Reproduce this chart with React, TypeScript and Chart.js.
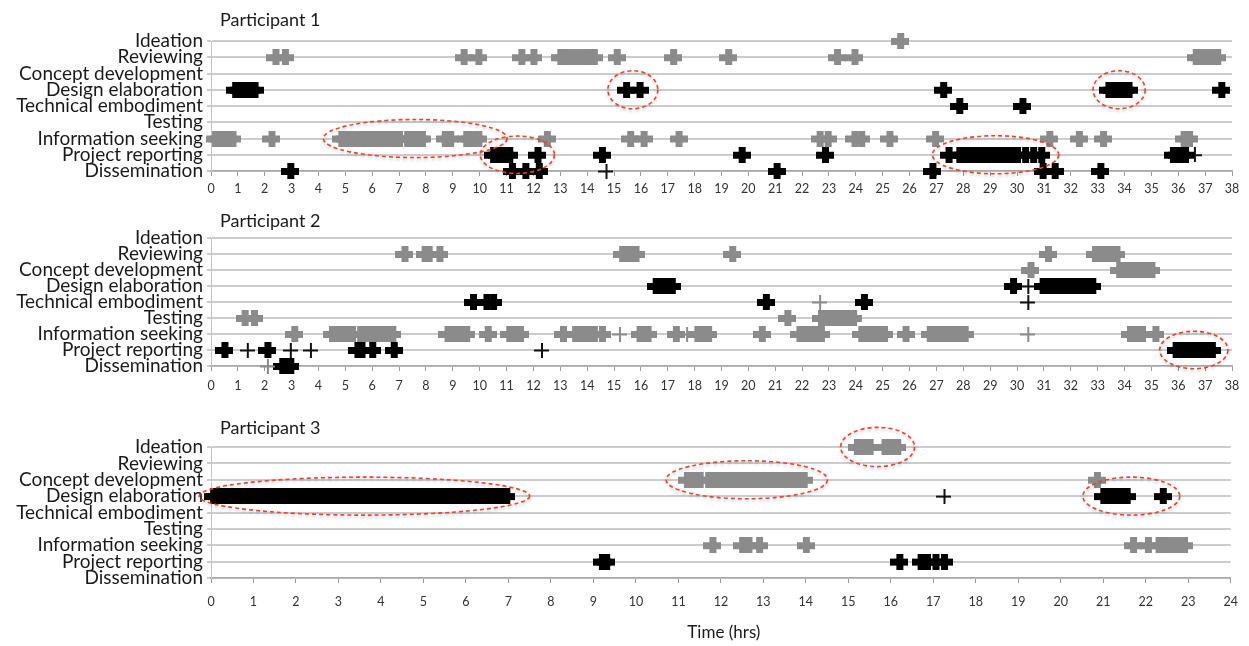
import React, { useEffect, useRef } from "react";
import { Chart, registerables } from "chart.js";

Chart.register(...registerables);

const FONT = "Lato, 'Open Sans', sans-serif";

const CATEGORIES = [
  "Ideation",
  "Reviewing",
  "Concept development",
  "Design elaboration",
  "Technical embodiment",
  "Testing",
  "Information seeking",
  "Project reporting",
  "Dissemination",
];

type Row = [string, number[]];
type Ellipse = [number, string, number, number];

// ---------- Participant 1 (hours 0–38) ----------
const P1_X_MAX = 38;
const P1_GRAY: Row[] = [
  ["Ideation", [25.65]],
  ["Reviewing", [2.4, 2.75, 9.4, 9.95, 11.55, 12.0, 13.0, 13.15, 13.3, 13.45, 13.6, 13.75, 13.9, 14.05, 14.25, 15.1, 17.2, 19.25, 23.3, 23.95, 36.65, 36.8, 36.95, 37.1, 37.25, 37.45]],
  ["Information seeking", [0.15, 0.3, 0.45, 0.6, 0.8, 2.25, 4.85, 5.0, 5.15, 5.3, 5.45, 5.6, 5.75, 5.9, 6.05, 6.2, 6.35, 6.5, 6.65, 6.8, 7.0, 7.3, 7.45, 7.6, 7.75, 7.85, 8.7, 8.9, 9.5, 9.65, 9.8, 9.95, 12.5, 15.6, 16.1, 17.4, 22.65, 22.95, 23.95, 24.2, 25.25, 26.95, 31.2, 32.3, 33.2, 36.2, 36.4]],
];
const P1_BLACK: Row[] = [
  ["Design elaboration", [0.9, 1.05, 1.2, 1.35, 1.5, 1.62, 15.45, 15.95, 27.25, 33.4, 33.55, 33.7, 33.85, 34.0, 34.15, 37.6]],
  ["Technical embodiment", [27.85, 30.2]],
  ["Project reporting", [10.5, 10.65, 10.8, 10.95, 11.1, 12.15, 14.55, 19.75, 22.85, 27.45, 27.85, 28.0, 28.15, 28.3, 28.45, 28.6, 28.75, 28.9, 29.05, 29.2, 29.35, 29.5, 29.65, 29.8, 30.0, 30.3, 30.6, 30.9, 35.8, 35.95, 36.1, 36.25]],
  ["Dissemination", [2.95, 11.2, 11.7, 12.2, 21.05, 26.85, 30.95, 31.4, 33.1]],
];
const P1_THIN_BLACK: Row[] = [
  ["Project reporting", [36.6]],
  ["Dissemination", [14.7]],
];
const P1_THIN_GRAY: Row[] = [];
const P1_ELLIPSES: Ellipse[] = [
  [7.6, "Information seeking", 3.42, 1.17],
  [11.4, "Project reporting", 1.38, 1.15],
  [15.7, "Design elaboration", 0.93, 1.17],
  [29.2, "Project reporting", 2.35, 1.17],
  [33.8, "Design elaboration", 0.97, 1.17],
];

// ---------- Participant 2 (hours 0–38) ----------
const P2_X_MAX = 38;
const P2_GRAY: Row[] = [
  ["Reviewing", [7.2, 7.95, 8.1, 8.5, 15.3, 15.45, 15.6, 15.8, 19.4, 31.15, 32.9, 33.05, 33.2, 33.35, 33.5, 33.7]],
  ["Concept development", [30.5, 33.8, 33.95, 34.1, 34.25, 34.4, 34.55, 34.7, 34.85, 35.0]],
  ["Testing", [1.25, 1.6, 21.45, 22.7, 22.85, 23.0, 23.15, 23.3, 23.45, 23.6, 23.75, 23.9]],
  ["Information seeking", [3.1, 4.5, 4.65, 4.8, 4.95, 5.1, 5.25, 5.55, 5.7, 5.85, 6.0, 6.15, 6.3, 6.45, 6.6, 6.75, 8.8, 8.95, 9.1, 9.25, 9.4, 9.5, 10.3, 11.1, 11.25, 11.4, 11.5, 13.1, 13.55, 13.8, 13.95, 14.1, 14.25, 14.55, 15.95, 16.1, 16.25, 17.3, 18.1, 18.25, 18.4, 18.5, 20.5, 21.9, 22.05, 22.2, 22.35, 22.5, 22.7, 24.2, 24.35, 24.5, 24.65, 24.8, 25.05, 25.85, 26.75, 26.9, 27.05, 27.2, 27.35, 27.5, 27.65, 27.8, 27.95, 28.05, 34.2, 34.35, 34.5, 34.65, 35.15]],
];
const P2_BLACK: Row[] = [
  ["Design elaboration", [16.55, 16.7, 16.85, 17.0, 17.15, 29.85, 30.95, 31.1, 31.25, 31.4, 31.55, 31.7, 31.85, 32.0, 32.15, 32.3, 32.45, 32.6, 32.8]],
  ["Technical embodiment", [9.75, 10.25, 10.5, 20.65, 24.3]],
  ["Project reporting", [0.5, 2.1, 5.45, 5.6, 6.0, 6.8, 35.9, 36.05, 36.2, 36.35, 36.5, 36.65, 36.8, 36.95, 37.1, 37.25]],
  ["Dissemination", [2.65, 2.8, 2.95]],
];
const P2_THIN_BLACK: Row[] = [
  ["Design elaboration", [30.4]],
  ["Technical embodiment", [30.4]],
  ["Project reporting", [1.35, 2.95, 3.7, 12.3]],
];
const P2_THIN_GRAY: Row[] = [
  ["Technical embodiment", [22.65]],
  ["Information seeking", [15.2, 17.7, 30.4]],
  ["Dissemination", [2.1]],
];
const P2_ELLIPSES: Ellipse[] = [[36.58, "Project reporting", 1.27, 1.17]];

// ---------- Participant 3 (hours 0–24) ----------
const P3_X_MAX = 24;
const P3_GRAY: Row[] = [
  ["Ideation", [15.2, 15.35, 15.5, 15.85, 16.0, 16.15]],
  ["Concept development", [11.2, 11.35, 11.5, 11.7, 11.85, 12.0, 12.15, 12.3, 12.45, 12.6, 12.75, 12.9, 13.05, 13.2, 13.35, 13.5, 13.65, 13.8, 13.95, 20.85]],
  ["Information seeking", [11.8, 12.5, 12.65, 12.9, 14.0, 21.7, 22.05, 22.3, 22.45, 22.6, 22.75, 22.9]],
];
const P3_BLACK: Row[] = [
  ["Design elaboration", [
    0.05, 0.15, 0.25, 0.35, 0.45, 0.55, 0.65, 0.75, 0.85, 0.95,
    1.05, 1.15, 1.25, 1.35, 1.45, 1.55, 1.65, 1.75, 1.85, 1.95,
    2.05, 2.15, 2.25, 2.35, 2.45, 2.55, 2.65, 2.75, 2.85, 2.95,
    3.05, 3.15, 3.25, 3.35, 3.45, 3.55, 3.65, 3.75, 3.85, 3.95,
    4.05, 4.15, 4.25, 4.35, 4.45, 4.55, 4.65, 4.75, 4.85, 4.95,
    5.05, 5.15, 5.25, 5.35, 5.45, 5.55, 5.65, 5.75, 5.85, 5.95,
    6.05, 6.15, 6.25, 6.35, 6.45, 6.55, 6.65, 6.75, 6.85, 6.95,
    21.0, 21.1, 21.2, 21.3, 21.4, 21.55, 22.4,
  ]],
  ["Project reporting", [9.2, 9.3, 16.2, 16.7, 16.85, 17.05, 17.25]],
];
const P3_THIN_BLACK: Row[] = [["Design elaboration", [17.25]]];
const P3_THIN_GRAY: Row[] = [];
const P3_ELLIPSES: Ellipse[] = [
  [3.61, "Design elaboration", 3.89, 1.16],
  [12.61, "Concept development", 1.9, 1.16],
  [15.69, "Ideation", 0.87, 1.2],
  [21.66, "Design elaboration", 1.14, 1.16],
];

function makePlus(color: string, w: number, h: number, t: number) {
  const c = document.createElement("canvas");
  c.width = w;
  c.height = h;
  const g = c.getContext("2d")!;
  g.fillStyle = color;
  g.fillRect(0, Math.round((h - t) / 2), w, t);
  g.fillRect(Math.round((w - t) / 2), 0, t, h);
  return c;
}

function toPoints(rows: Row[]) {
  return rows.flatMap(([cat, xs]) => xs.map((x) => ({ x, y: CATEGORIES.indexOf(cat) })));
}

interface PanelProps {
  title: string;
  gray: Row[];
  black: Row[];
  thinBlack: Row[];
  thinGray: Row[];
  ellipses: Ellipse[];
  xMax: number;
  top: number;
  height: number;
  padTop: number;
  axisHeight: number;
  tickPad: number;
  titleGap: number;
  xTitle?: string;
}

function Panel(p: PanelProps) {
  const ref = useRef<HTMLCanvasElement>(null);
  useEffect(() => {
    const grayPlus = makePlus("#8b8b8b", 18, 16, 7);
    const blackPlus = makePlus("#000000", 18, 16, 7);
    const thinBlackPlus = makePlus("#111111", 15, 15, 2);
    const thinGrayPlus = makePlus("#8b8b8b", 15, 15, 2);

    const annot = {
      id: "annot",
      afterDatasetsDraw(chart: any) {
        const ctx = chart.ctx;
        const xs = chart.scales.x;
        const ys = chart.scales.y;
        for (const [cx, cat, rx, ry] of p.ellipses) {
          const cy = CATEGORIES.indexOf(cat);
          const px = xs.getPixelForValue(cx);
          const py = ys.getPixelForValue(cy);
          const prx = Math.abs(xs.getPixelForValue(cx + rx) - px);
          const pry = Math.abs(ys.getPixelForValue(cy + ry) - py);
          ctx.save();
          ctx.beginPath();
          ctx.ellipse(px, py, prx, pry, 0, 0, Math.PI * 2);
          ctx.setLineDash([4, 3]);
          ctx.strokeStyle = "#f0402f";
          ctx.lineWidth = 1.6;
          ctx.shadowColor = "rgba(0,0,0,0.25)";
          ctx.shadowBlur = 3;
          ctx.shadowOffsetY = 2;
          ctx.stroke();
          ctx.restore();
        }
      },
      afterDraw(chart: any) {
        const ctx = chart.ctx;
        const area = chart.chartArea;
        ctx.save();
        ctx.fillStyle = "#1a1a1a";
        ctx.font = `18px ${FONT}`;
        ctx.textBaseline = "middle";
        ctx.textAlign = "left";
        ctx.fillText(p.title, area.left + 9, area.top - p.titleGap);
        if (p.xTitle) {
          ctx.font = `17px ${FONT}`;
          ctx.textAlign = "center";
          ctx.fillText(p.xTitle, (area.left + area.right) / 2 + 3, area.bottom + 55);
        }
        ctx.restore();
      },
    };

    const mk = (rows: Row[], style: HTMLCanvasElement, label: string) => ({
      label,
      data: toPoints(rows),
      pointStyle: style,
      pointRadius: 8,
      clip: false as any,
    });

    const chart = new Chart(ref.current!, {
      type: "scatter",
      data: {
        datasets: [
          mk(p.gray, grayPlus, "gray"),
          mk(p.thinGray, thinGrayPlus, "thinGray"),
          mk(p.black, blackPlus, "black"),
          mk(p.thinBlack, thinBlackPlus, "thinBlack"),
        ],
      },
      options: {
        animation: false,
        responsive: false,
        maintainAspectRatio: false,
        layout: { padding: { top: p.padTop, right: 17, left: 0, bottom: 0 } },
        plugins: { legend: { display: false }, tooltip: { enabled: false }, title: { display: false } },
        scales: {
          x: {
            type: "linear",
            min: 0,
            max: p.xMax,
            afterFit: (s: any) => {
              s.height = p.axisHeight;
            },
            ticks: {
              stepSize: 1,
              autoSkip: false,
              maxRotation: 0,
              padding: p.tickPad,
              color: "#333",
              font: { family: FONT, size: 12.5 },
            },
            grid: { drawOnChartArea: false, drawTicks: true, tickLength: 5, color: "#999" },
            border: { display: true, color: "#a8a8a8", width: 1.5 },
          },
          y: {
            type: "linear",
            min: 0,
            max: 8,
            reverse: true,
            afterFit: (s: any) => {
              s.width = 211;
            },
            ticks: {
              stepSize: 1,
              autoSkip: false,
              padding: 4,
              color: "#1a1a1a",
              font: { family: FONT, size: 19 },
              callback: (v: any) => CATEGORIES[v as number] ?? "",
            },
            grid: { color: "#cccccc", lineWidth: 2, tickLength: 4, drawTicks: true },
            border: { display: true, color: "#c4c4c4", width: 1 },
          },
        },
      },
      plugins: [annot],
    } as any);
    return () => chart.destroy();
  }, []);
  return (
    <canvas
      ref={ref}
      width={1249}
      height={p.height}
      style={{ position: "absolute", left: 0, top: p.top, width: 1249, height: p.height }}
    />
  );
}

export default function App() {
  return (
    <div style={{ position: "fixed", left: 0, top: 0, width: 1249, height: 646, background: "#fff" }}>
      <Panel
        title="Participant 1"
        gray={P1_GRAY}
        black={P1_BLACK}
        thinBlack={P1_THIN_BLACK}
        thinGray={P1_THIN_GRAY}
        ellipses={P1_ELLIPSES}
        xMax={P1_X_MAX}
        top={0}
        height={200}
        padTop={41}
        axisHeight={29}
        tickPad={5}
        titleGap={21}
      />
      <Panel
        title="Participant 2"
        gray={P2_GRAY}
        black={P2_BLACK}
        thinBlack={P2_THIN_BLACK}
        thinGray={P2_THIN_GRAY}
        ellipses={P2_ELLIPSES}
        xMax={P2_X_MAX}
        top={200}
        height={200}
        padTop={38}
        axisHeight={34}
        tickPad={7}
        titleGap={17}
      />
      <Panel
        title="Participant 3"
        gray={P3_GRAY}
        black={P3_BLACK}
        thinBlack={P3_THIN_BLACK}
        thinGray={P3_THIN_GRAY}
        ellipses={P3_ELLIPSES}
        xMax={P3_X_MAX}
        top={400}
        height={246}
        padTop={47}
        axisHeight={68}
        tickPad={11}
        titleGap={19}
        xTitle="Time (hrs)"
      />
    </div>
  );
}
